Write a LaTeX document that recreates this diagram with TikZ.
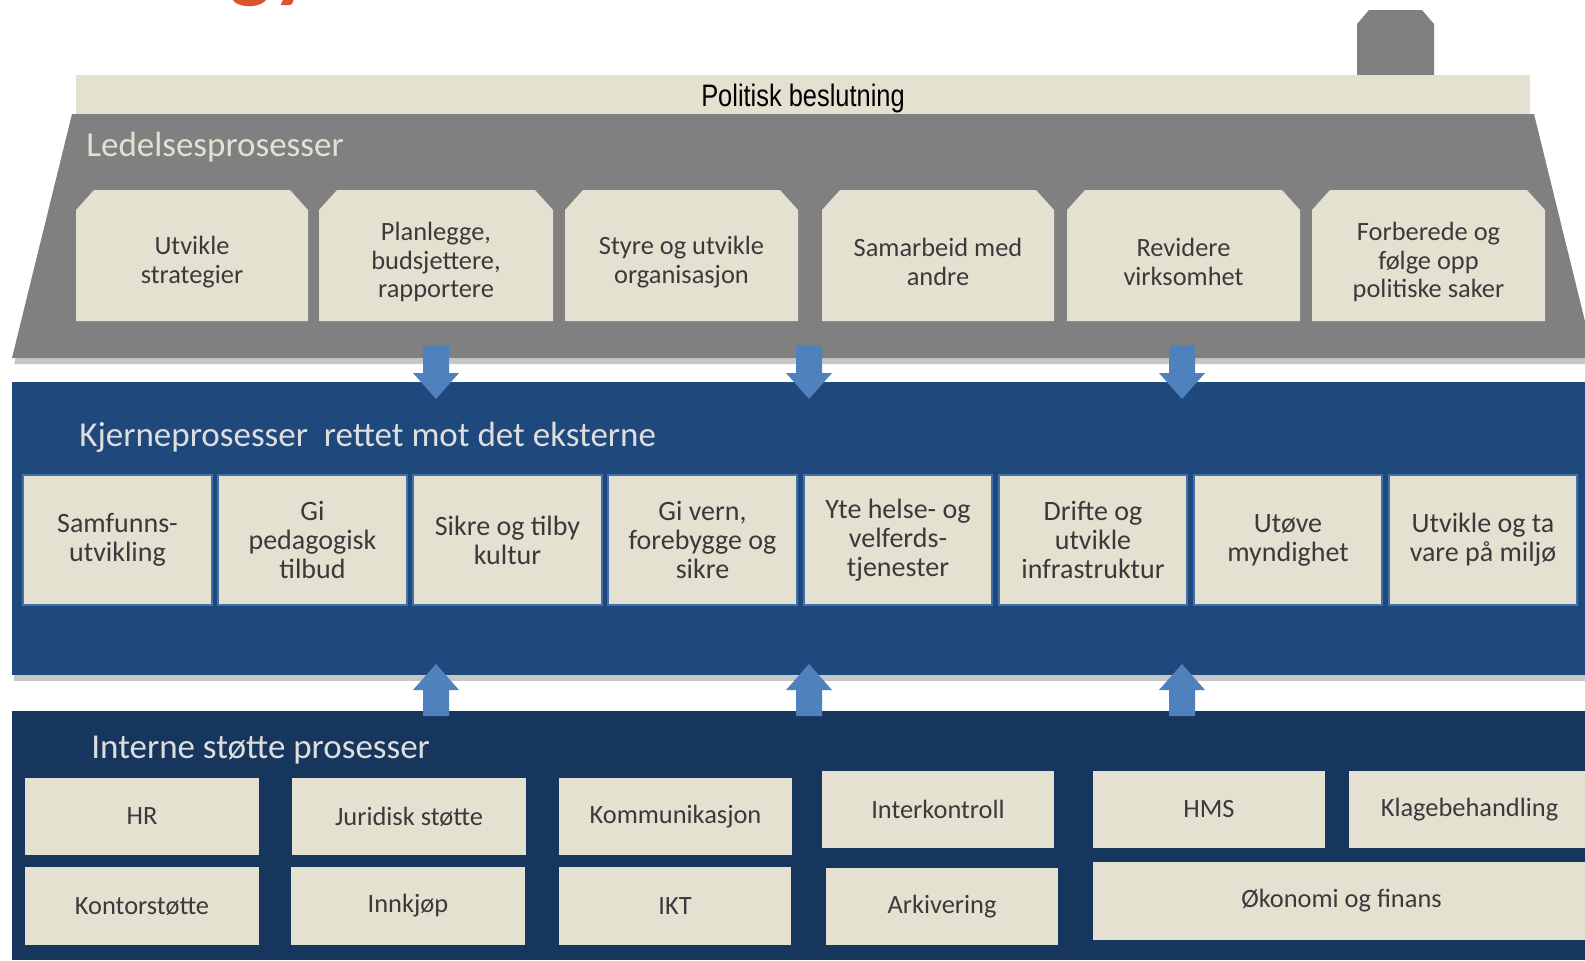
\documentclass[tikz,border=0pt]{standalone}
\usepackage{fontspec}
\setmainfont{Carlito}
\newfontfamily\narrowfont[FakeStretch=0.82]{Liberation Sans}
\usetikzlibrary{calc}
\definecolor{paper}{HTML}{E4E1D1}
\definecolor{roofgray}{HTML}{808080}
\definecolor{coreblue}{HTML}{1F497D}
\definecolor{supportblue}{HTML}{17365D}
\definecolor{arrowblue}{HTML}{4F81BD}
\definecolor{boxtext}{HTML}{3A3A3A}
\definecolor{titlered}{HTML}{D9542F}
\definecolor{headlight}{HTML}{DEDEDE}

% chamfered management box: name, left x, right x, text
\newcommand\mgmtbox[4]{%
  \fill[paper] (#2,321) -- (#2,210) -- ({#2+18},190) -- ({#3-18},190) -- (#3,210) -- (#3,321) -- cycle;
  \node[mgmtlabel] (#1) at ({(#2+#3)/2},262) {#4};}
% rectangular process box: style, name, corner, corner, text
\newcommand\procbox[5]{%
  \path[#1] (#3) rectangle (#4);
  \node[#1 label] (#2) at ($(#3)!0.5!(#4)$) {#5};}

\begin{document}
\begin{tikzpicture}[x=0.5pt,y=-0.5pt,
  heading/.style={anchor=west, inner sep=0, font=\fontsize{17.5}{20}\selectfont},
  mgmtlabel/.style={align=center, text=boxtext, inner sep=0, font=\fontsize{13.2}{14.2}\selectfont},
  corebox/.style={fill=paper, draw=arrowblue!70!coreblue, line width=0.6pt},
  corebox label/.style={align=center, text=boxtext, inner sep=0, font=\fontsize{14}{14.5}\selectfont},
  supportbox/.style={fill=paper},
  supportbox label/.style={align=center, text=boxtext, inner sep=0, font=\fontsize{13.2}{15}\selectfont},
  blockarrow/.style={fill=arrowblue}]
\useasboundingbox (0,0) rectangle (1585,960);
\clip (0,0) rectangle (1585,960);

% cut-off heading above the house
\node[anchor=base west, inner sep=0, text=titlered, font=\fontsize{45}{50}\bfseries\selectfont] (headtail) at (229,-9) {gy};

% chimney
\fill[roofgray] (1357,75) -- (1357,24) -- (1369,10) -- (1422,10) -- (1434,24) -- (1434,75) -- cycle;

% political decision strip
\fill[paper] (76,75) rectangle (1530,115);
\node[inner sep=0, font=\narrowfont\fontsize{15.5}{18}\selectfont] (politisk) at (803,98) {Politisk beslutning};

% roof: management processes
\fill[black!22] (16,357) -- (1595,357) -- (1597,364) -- (14,364) -- cycle;
\fill[roofgray] (72,114) -- (1534,114) -- (1594,358) -- (12,358) -- cycle;
\node[heading, text=paper] (ledelse) at (86,147) {Ledelsesprosesser};

\mgmtbox{m1}{76}{308}{Utvikle\\strategier}
\mgmtbox{m2}{319}{553}{Planlegge,\\budsjettere,\\rapportere}
\mgmtbox{m3}{565}{798}{Styre og utvikle\\organisasjon}
\mgmtbox{m4}{822}{1054}{Samarbeid med\\andre}
\mgmtbox{m5}{1067}{1300}{Revidere\\virksomhet}
\mgmtbox{m6}{1312}{1545}{Forberede og\\følge opp\\politiske saker}

% core processes band
\fill[black!22] (14,675) rectangle (1585,681);
\fill[coreblue] (12,382) rectangle (1585,675);
\node[heading, text=headlight] (kjerne) at (79,437) {Kjerneprosesser\ \ rettet mot det eksterne};

\procbox{corebox}{c1}{23,475}{212,605}{Samfunns-\\utvikling}
\procbox{corebox}{c2}{218,475}{407,605}{Gi\\pedagogisk\\tilbud}
\procbox{corebox}{c3}{413,475}{602,605}{Sikre og tilby\\kultur}
\procbox{corebox}{c4}{608,475}{797,605}{Gi vern,\\forebygge og\\sikre}
\procbox{corebox}{c5}{804,475}{992,605}{Yte helse- og\\velferds-\\tjenester}
\procbox{corebox}{c6}{999,475}{1187,605}{Drifte og\\utvikle\\infrastruktur}
\procbox{corebox}{c7}{1194,475}{1382,605}{Utøve\\myndighet}
\procbox{corebox}{c8}{1389,475}{1577,605}{Utvikle og ta\\vare på miljø}

% support processes band
\fill[supportblue] (12,711) rectangle (1585,960);
\node[heading, text=headlight] (interne) at (91,750) {Interne støtte prosesser};

\procbox{supportbox}{s1}{25,778}{259,855}{HR}
\procbox{supportbox}{s2}{25,867}{259,945}{Kontorstøtte}
\procbox{supportbox}{s3}{292,778}{526,855}{Juridisk støtte}
\procbox{supportbox}{s4}{291,867}{525,945}{Innkjøp}
\procbox{supportbox}{s5}{559,778}{792,855}{Kommunikasjon}
\procbox{supportbox}{s6}{559,867}{791,945}{IKT}
\procbox{supportbox}{s7}{822,771}{1054,848}{Interkontroll}
\procbox{supportbox}{s8}{826,868}{1058,945}{Arkivering}
\procbox{supportbox}{s9}{1093,771}{1325,848}{HMS}
\procbox{supportbox}{s10}{1349,771}{1590,848}{Klagebehandling}
\procbox{supportbox}{s11}{1093,862}{1590,940}{Økonomi og finans}

% flow arrows between the layers
\foreach \ax in {436,809,1182}{
  \fill[blockarrow, shift={(\ax,0)}] (-13,345) -- (13,345) -- (13,373) -- (23,373) -- (0,399) -- (-23,373) -- (-13,373) -- cycle;
  \fill[blockarrow, shift={(\ax,0)}] (-13,716) -- (13,716) -- (13,690) -- (23,690) -- (0,664) -- (-23,690) -- (-13,690) -- cycle;
}
\end{tikzpicture}
\end{document}
